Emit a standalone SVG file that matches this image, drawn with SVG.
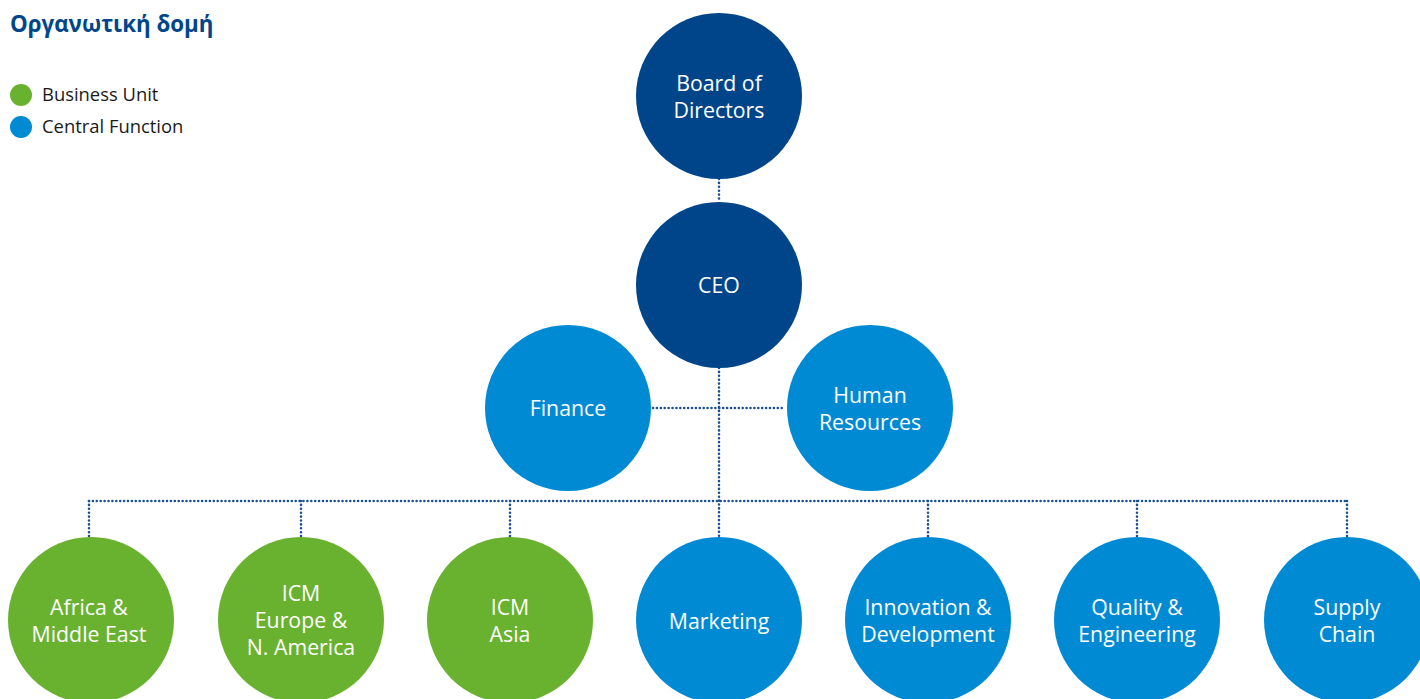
<svg xmlns="http://www.w3.org/2000/svg" width="1420" height="699" viewBox="0 0 1420 699">
  <style>
    .title { font-family: "Open Sans", "Noto Sans", sans-serif; font-size: 22.3px; font-weight: 700; fill: #00468b; }
    .legend { font-family: "Open Sans", "Noto Sans", sans-serif; font-size: 18.4px; fill: #1a1a1a; }
    .label { font-family: "Open Sans", "Noto Sans", sans-serif; font-size: 21.3px; fill: #ffffff; text-anchor: middle; }
    .navy { fill: #00458a; }
    .blue { fill: #008ad3; }
    .green { fill: #69b22f; }
    .link { fill: none; stroke: #1a4f94; stroke-width: 2.6; stroke-linecap: round; stroke-dasharray: 0 3.9; }
  </style>
  <rect width="1420" height="699" fill="#ffffff"/>

  <text class="title" x="10" y="32">Οργανωτική δομή</text>
  <g id="legend">
    <circle class="green" cx="21" cy="95" r="11"/>
    <text class="legend" x="42" y="101">Business Unit</text>
    <circle class="blue" cx="21" cy="127" r="11"/>
    <text class="legend" x="42" y="133">Central Function</text>
  </g>

  <g id="connectors">
    <path class="link" d="M719 179 V202"/>
    <path class="link" d="M719 368 V537"/>
    <path class="link" d="M653 408 H785"/>
    <path class="link" d="M89 501 H1347"/>
    <path class="link" d="M89 501 V537"/>
    <path class="link" d="M301 501 V537"/>
    <path class="link" d="M510 501 V537"/>
    <path class="link" d="M928 501 V537"/>
    <path class="link" d="M1137 501 V537"/>
    <path class="link" d="M1347 501 V537"/>
  </g>

  <g id="board">
    <circle class="navy" cx="719" cy="96" r="83"/>
    <text class="label" x="719" y="91">Board of</text>
    <text class="label" x="719" y="118">Directors</text>
  </g>
  <g id="ceo">
    <circle class="navy" cx="719" cy="285" r="83"/>
    <text class="label" x="719" y="293">CEO</text>
  </g>
  <g id="finance">
    <circle class="blue" cx="568" cy="408" r="83"/>
    <text class="label" x="568" y="416">Finance</text>
  </g>
  <g id="hr">
    <circle class="blue" cx="870" cy="408" r="83"/>
    <text class="label" x="870" y="403">Human</text>
    <text class="label" x="870" y="430">Resources</text>
  </g>

  <g id="africa">
    <circle class="green" cx="91" cy="620" r="83"/>
    <text class="label" x="89" y="615">Africa &amp;</text>
    <text class="label" x="89" y="642">Middle East</text>
  </g>
  <g id="icm-europe">
    <circle class="green" cx="301" cy="620" r="83"/>
    <text class="label" x="301" y="601">ICM</text>
    <text class="label" x="301" y="628">Europe &amp;</text>
    <text class="label" x="301" y="655">N. America</text>
  </g>
  <g id="icm-asia">
    <circle class="green" cx="510" cy="620" r="83"/>
    <text class="label" x="510" y="615">ICM</text>
    <text class="label" x="510" y="642">Asia</text>
  </g>
  <g id="marketing">
    <circle class="blue" cx="719" cy="620" r="83"/>
    <text class="label" x="719" y="629">Marketing</text>
  </g>
  <g id="innovation">
    <circle class="blue" cx="928" cy="620" r="83"/>
    <text class="label" x="928" y="615">Innovation &amp;</text>
    <text class="label" x="928" y="642">Development</text>
  </g>
  <g id="quality">
    <circle class="blue" cx="1137" cy="620" r="83"/>
    <text class="label" x="1137" y="615">Quality &amp;</text>
    <text class="label" x="1137" y="642">Engineering</text>
  </g>
  <g id="supply-chain">
    <circle class="blue" cx="1347" cy="620" r="83"/>
    <text class="label" x="1347" y="615">Supply</text>
    <text class="label" x="1347" y="642">Chain</text>
  </g>
</svg>
